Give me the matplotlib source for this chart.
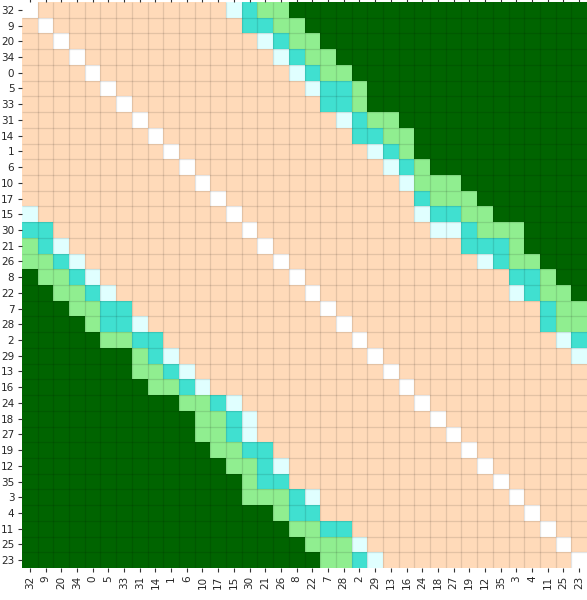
import matplotlib
matplotlib.use("Agg")
import matplotlib.pyplot as plt
import numpy as np
from matplotlib.colors import ListedColormap, BoundaryNorm

# Node order along both axes
labels = ["32", "9", "20", "34", "0", "5", "33", "31", "14", "1", "6", "10",
          "17", "15", "30", "21", "26", "8", "22", "7", "28", "2", "29", "13",
          "16", "24", "18", "27", "19", "12", "35", "3", "4", "11", "25", "23"]

# Level of each cell (0 = self, 1..5 = increasing class), six columns per group
level_rows = [
    "011111 111111 123445 555555 555555 555555",
    "101111 111111 113344 555555 555555 555555",
    "110111 111111 111234 455555 555555 555555",
    "111011 111111 111123 445555 555555 555555",
    "111101 111111 111112 344555 555555 555555",
    "111110 111111 111111 233455 555555 555555",
    "111111 011111 111111 133455 555555 555555",
    "111111 101111 111111 112344 555555 555555",
    "111111 110111 111111 111334 455555 555555",
    "111111 111011 111111 111123 455555 555555",
    "111111 111101 111111 111112 345555 555555",
    "111111 111110 111111 111111 244455 555555",
    "111111 111111 011111 111111 134445 555555",
    "211111 111111 101111 111111 123344 555555",
    "331111 111111 110111 111111 112234 445555",
    "432111 111111 111011 111111 111133 345555",
    "443211 111111 111101 111111 111112 344555",
    "544321 111111 111110 111111 111111 133455",
    "554432 111111 111111 011111 111111 123445",
    "555443 311111 111111 101111 111111 111344",
    "555543 321111 111111 110111 111111 111344",
    "555554 433111 111111 111011 111111 111123",
    "555555 543211 111111 111101 111111 111112",
    "555555 544321 111111 111110 111111 111111",
    "555555 554432 111111 111111 011111 111111",
    "555555 555544 321111 111111 101111 111111",
    "555555 555554 432111 111111 110111 111111",
    "555555 555554 432111 111111 111011 111111",
    "555555 555555 443311 111111 111101 111111",
    "555555 555555 544321 111111 111110 111111",
    "555555 555555 554331 111111 111111 011111",
    "555555 555555 554443 211111 111111 101111",
    "555555 555555 555543 311111 111111 110111",
    "555555 555555 555554 433111 111111 111011",
    "555555 555555 555555 444211 111111 111101",
    "555555 555555 555555 544321 111111 111110",
]

level_colors = ["white", "peachpuff", "lightcyan", "turquoise",
                "lightgreen", "darkgreen"]

matrix = np.array([[int(c) for c in r.replace(" ", "")] for r in level_rows])
n = len(labels)

cmap = ListedColormap(level_colors)
norm = BoundaryNorm(np.arange(-0.5, len(level_colors) + 0.5, 1), cmap.N)

fig = plt.figure(figsize=(5.87, 6.0), dpi=100)
ax = fig.add_axes([22 / 587, 32 / 600, 565 / 587, 566 / 600])

ax.pcolormesh(np.arange(n + 1), np.arange(n + 1), matrix,
              cmap=cmap, norm=norm, shading="flat")

# faint cell separators
ax.vlines(np.arange(1, n), 0, n, colors="black", alpha=0.11, linewidth=0.9)
ax.hlines(np.arange(1, n), 0, n, colors="black", alpha=0.11, linewidth=0.9)

ax.set_xlim(0, n)
ax.set_ylim(n, 0)

ticks = np.arange(n) + 0.5
ax.set_xticks(ticks)
ax.set_xticklabels(labels, rotation=90, fontsize=7.5, color="#262626")
ax.set_yticks(ticks)
ax.set_yticklabels(labels, fontsize=7.5, color="#262626")
ax.tick_params(axis="both", length=3, width=0.8, pad=2.5, colors="#333333",
               labelcolor="#262626")
ax.tick_params(axis="x", top=True, labeltop=False)

for s in ax.spines.values():
    s.set_visible(False)

fig.savefig("out.png", dpi=100)
